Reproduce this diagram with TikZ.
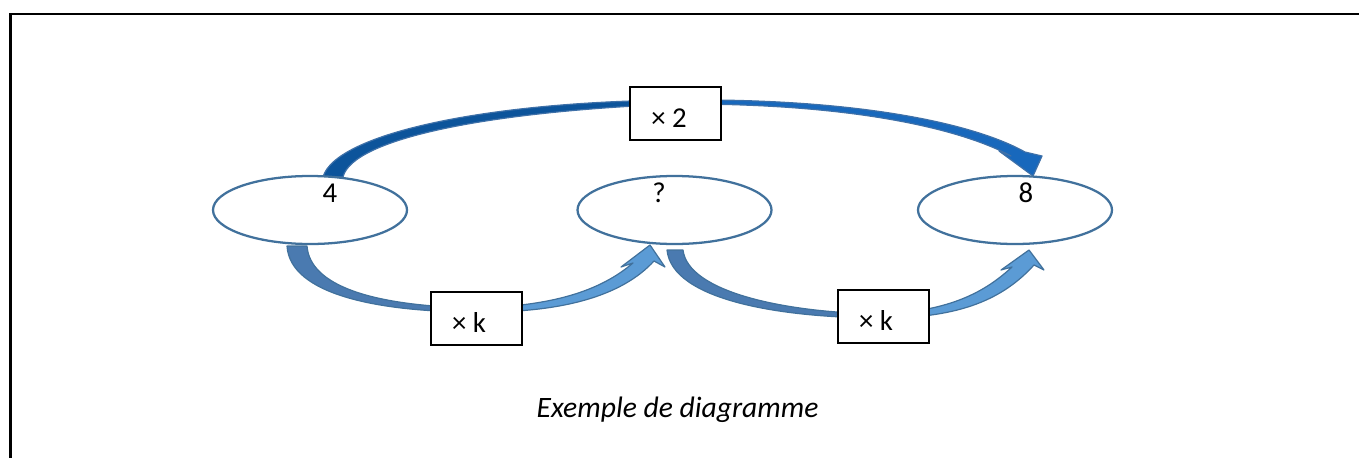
\documentclass[tikz,border=0pt]{standalone}
\usepackage{fontspec}
\setmainfont{Carlito}
\definecolor{elline}{RGB}{65,113,156}
\definecolor{topdark}{RGB}{12,84,155}
\definecolor{toplight}{RGB}{24,104,188}
\definecolor{topline}{RGB}{62,112,168}
\definecolor{botdark}{RGB}{74,122,176}
\definecolor{botlight}{RGB}{91,155,213}
\definecolor{botline}{RGB}{65,113,156}
\tikzset{
  ell/.style={ellipse, draw=elline, line width=1.7pt, fill=white, minimum width=145.5pt, minimum height=51pt, inner sep=0pt},
  kbox/.style={rectangle, draw=black, line width=1.1pt, fill=white, minimum width=68.25pt, minimum height=39.75pt, inner sep=0pt},
  lbl/.style={inner sep=0pt, font=\fontsize{21.6}{25}\selectfont},
  toparrow/.style={draw=topline, line width=0.9pt, line join=round},
  botarrow/.style={draw=botline, line width=0.9pt, line join=round},
}
\usetikzlibrary{shapes.geometric}
\begin{document}
\begin{tikzpicture}[x=0.75pt, y=-0.75pt]
\useasboundingbox (0,0) rectangle (1359,457);
% frame
\draw[line width=2.2pt, line cap=rect] (10.5,460) -- (10.5,14) -- (1362,14);
% top arrow (x 2)
\path[toparrow, fill=topdark] (323,177) .. controls (335,135) and (480,102) .. (675,100) -- (675,104) .. controls (480,112) and (352,140) .. (343,177) -- cycle;
\path[toparrow, fill=toplight] (675,100) .. controls (860,98) and (975,124) .. (1025,152) -- (1042,156) -- (1033,176) -- (999,151) -- (1011,156) .. controls (965,131) and (860,103) .. (675,104) -- cycle;
% bottom arrow 1
\path[botarrow, fill=botdark] (287,246) .. controls (290,295) and (380,312) .. (476,312) -- (476,308) .. controls (370,306) and (310,285) .. (307,246) -- cycle;
\path[botarrow, fill=botlight] (476,312) .. controls (562,313) and (622,296) .. (654,261) -- (665,267) -- (650,245) -- (621,267) -- (633,263) .. controls (600,291) and (553,306) .. (476,308) -- cycle;
% bottom arrow 2
\path[botarrow, fill=botdark] (667,250) .. controls (672,300) and (780,318) .. (883,318) -- (883,314) .. controls (785,313) and (688,292) .. (683,250) -- cycle;
\path[botarrow, fill=botlight] (883,318) .. controls (962,318) and (1004,298) .. (1034,265) -- (1044,270) -- (1029,250) -- (1001,270) -- (1012,267) .. controls (985,292) and (950,311) .. (883,314) -- cycle;
% ellipses
\node[ell] (e1) at (310,210) {};
\node[ell] (e2) at (674.5,210) {};
\node[ell] (e3) at (1015,210) {};
\node[lbl] (t4) at (330,193) {4};
\node[lbl] (tq) at (659,193) {?};
\node[lbl] (t8) at (1026,193) {8};
% boxes
\node[kbox] (b2) at (675.5,113.5) {};
\node[kbox] (bk1) at (476.5,318.5) {};
\node[kbox] (bk2) at (883.5,316.5) {};
\node[lbl] (l2) at (669,118) {×~2};
\node[lbl] (lk1) at (469,322) {×~k};
\node[lbl] (lk2) at (876,320) {×~k};
% caption
\node[lbl, font=\fontsize{22.2}{26}\selectfont\itshape] (cap) at (677.5,410) {Exemple de diagramme};
\end{tikzpicture}
\end{document}
